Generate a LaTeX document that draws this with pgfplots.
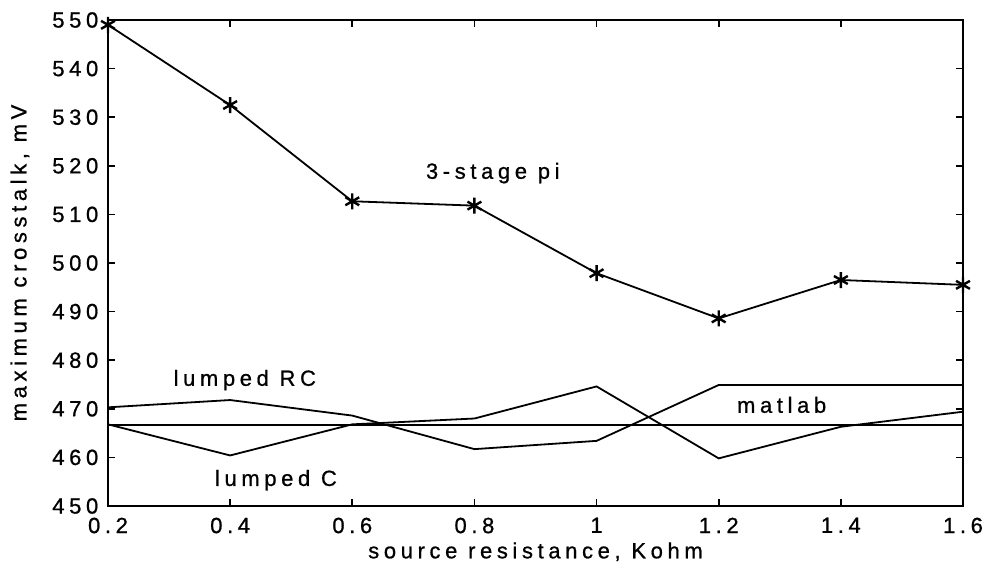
\documentclass[border=0pt]{standalone}
\usepackage{fontspec}
\setmainfont{Liberation Sans}[LetterSpace=21, FakeBold=0.8]
\usepackage{pgfplots}
\pgfplotsset{compat=1.18}
\usetikzlibrary{calc}
\begin{document}
\fontsize{11}{13}\selectfont
\begin{tikzpicture}
\begin{axis}[
  scale only axis, width=427.5pt, height=243pt,
  xmin=0.2, xmax=1.6, ymin=450, ymax=550,
  xtick={0.2,0.4,0.6,0.8,1,1.2,1.4,1.6},
  xticklabels={0.2,0.4,0.6,0.8,1,1.2,1.4,1.6},
  ytick={450,460,470,480,490,500,510,520,530,540,550},
  yticklabels={450,460,470,480,490,500,510,520,530,540,550},
  tick align=inside, major tick length=3.5pt,
  axis line style={line width=1.1pt},
  every tick/.style={black, line width=0.8pt},
  tick label style={font=\fontsize{11}{13}\selectfont},
  label style={font=\fontsize{11}{13}\selectfont},
  xticklabel style={yshift=-2pt},
  yticklabel style={xshift=-1pt},
  xlabel={source resistance, Kohm},
  xlabel style={yshift=3pt},
  ylabel={maximum crosstalk, mV},
  ylabel style={yshift=4pt},
  clip=false,
]
\addplot[black, line width=0.9pt, mark=asterisk, mark size=4pt, mark options={line width=1.2pt}] coordinates {
  (0.2,549.0) (0.4,532.5) (0.6,512.7) (0.8,511.8) (1.0,497.9) (1.2,488.6) (1.4,496.5) (1.6,495.5)};
\addplot[black, line width=0.9pt, no marks] coordinates {
  (0.2,470.3) (0.4,471.8) (0.6,468.6) (0.8,461.7) (1.0,463.4) (1.2,474.9) (1.4,474.9) (1.6,474.9)};
\addplot[black, line width=0.9pt, no marks] coordinates {
  (0.2,466.8) (0.4,460.4) (0.6,466.8) (0.8,468.0) (1.0,474.6) (1.2,459.8) (1.4,466.3) (1.6,469.4)};
\addplot[black, line width=0.9pt, no marks] coordinates {
  (0.2,466.7) (0.4,466.7) (0.6,466.7) (0.8,466.7) (1.0,466.7) (1.2,466.7) (1.4,466.7) (1.6,466.7)};
\node at (axis cs:0.83,518.5) {3-stage pi};
\node at (axis cs:0.424,475.9) {lumped RC};
\node at (axis cs:0.475,455.3) {lumped C};
\node at (axis cs:1.303,470.8) {matlab};
\coordinate (ll) at (rel axis cs:0,0);
\coordinate (ur) at (rel axis cs:1,1);
\end{axis}
\pgfresetboundingbox
\useasboundingbox ($(ll)+(-54pt,-29.5pt)$) rectangle ($(ur)+(10pt,10pt)$);
\end{tikzpicture}
\end{document}
